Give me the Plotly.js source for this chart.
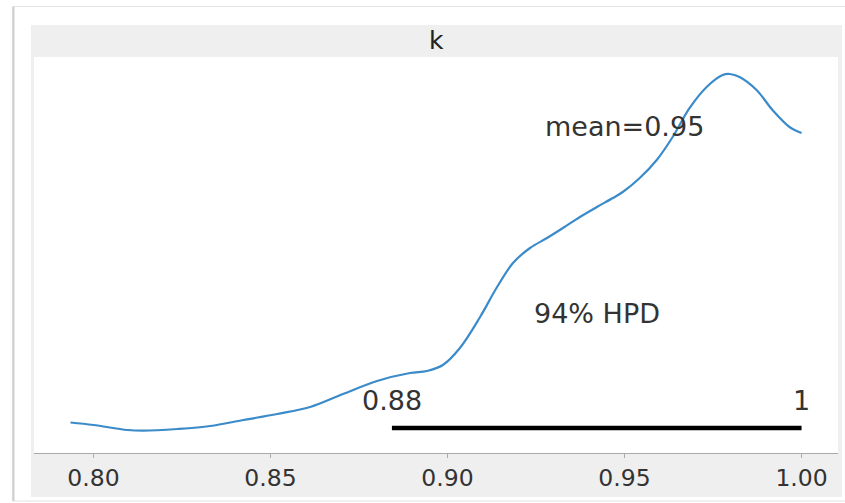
<!DOCTYPE html>
<html>
<head>
<meta charset="utf-8">
<script src="https://cdn.plot.ly/plotly-3.0.1.min.js"></script>
<style>html,body{margin:0;padding:0;background:#fff;}#chart{width:845px;height:503px;}</style>
</head>
<body>
<div id="chart"></div>
<script>
// Posterior KDE of k
const kdeX = [0.7935, 0.8000, 0.8096, 0.8141, 0.8237, 0.8330, 0.8423, 0.8519, 0.8612, 0.8705,
              0.8801, 0.8894, 0.8942, 0.8987, 0.9035, 0.9092, 0.9140, 0.9185, 0.9233, 0.9281,
              0.9326, 0.9374, 0.9422, 0.9467, 0.9495, 0.9543, 0.9591, 0.9636, 0.9684, 0.9732,
              0.9777, 0.9797, 0.9825, 0.9873, 0.9918, 0.9966, 1.0000];
const kdeY = [0.924, 0.848, 0.697, 0.676, 0.727, 0.818, 1.000, 1.182, 1.394, 1.788,
              2.182, 2.424, 2.485, 2.667, 3.182, 4.121, 5.030, 5.758, 6.212, 6.515,
              6.818, 7.152, 7.455, 7.727, 7.909, 8.333, 8.879, 9.576, 10.455, 11.091,
              11.455, 11.485, 11.394, 11.000, 10.394, 9.879, 9.697];
const hpdInterval = [0.8843, 1.0];
const hpdLabels = ["0.88", "1"];
const meanValue = 0.95;
const meanLabel = "mean=0.95";
const hpdText = "94% HPD";
const varName = "k";
const tickVals = [0.80, 0.85, 0.90, 0.95, 1.00];
const tickText = ["0.80", "0.85", "0.90", "0.95", "1.00"];

const hpdY = 0.758;
const txtFont = {family: "DejaVu Sans", size: 27, color: "#333"};

const traces = [
  {x: kdeX, y: kdeY, type: "scatter", mode: "lines",
   line: {color: "#3b8bc9", width: 2.2, shape: "spline", smoothing: 1.0}, hoverinfo: "skip"},
  {x: hpdInterval, y: [hpdY, hpdY], type: "scatter", mode: "lines",
   line: {color: "#000", width: 4.5}, hoverinfo: "skip"}
];

// pixel helpers (plot area: x 34..838, y 57..453)
const px = v => (v - 34) / 804;
const py = v => (453 - v) / 396;

const layout = {
  width: 845, height: 503,
  margin: {l: 34, r: 7, t: 57, b: 50, pad: 0},
  paper_bgcolor: "#fff",
  plot_bgcolor: "rgba(0,0,0,0)",
  showlegend: false,
  xaxis: {
    range: [0.7832, 1.0103], tickvals: tickVals, ticktext: tickText,
    showgrid: false, zeroline: false, showline: true, linecolor: "#aaa", linewidth: 1,
    ticks: "outside", ticklen: 4, tickcolor: "#aaa", tickwidth: 1,
    tickfont: {family: "DejaVu Sans", size: 23.5, color: "#333"}
  },
  yaxis: {range: [0, 12], visible: false, showgrid: false, zeroline: false},
  shapes: [
    {type: "rect", xref: "paper", yref: "paper", x0: px(12.5), x1: px(860), y0: py(501), y1: py(6.5),
     fillcolor: "#fff", line: {color: "#e2e2e2", width: 1}, layer: "below"},
    {type: "line", xref: "paper", yref: "paper", x0: px(13.5), x1: px(13.5), y0: py(501), y1: py(7),
     line: {color: "#cfcfcf", width: 2}, layer: "below"},
    {type: "rect", xref: "paper", yref: "paper", x0: px(31), x1: px(842), y0: py(497), y1: py(25),
     fillcolor: "#efefef", line: {width: 0}, layer: "below"},
    {type: "rect", xref: "paper", yref: "paper", x0: 0, x1: 1, y0: 0, y1: 1,
     fillcolor: "#fff", line: {width: 0}, layer: "below"}
  ],
  annotations: [
    {text: varName, xref: "paper", yref: "paper", x: 0.5, y: py(41), xanchor: "center", yanchor: "middle",
     showarrow: false, font: {family: "DejaVu Sans", size: 25, color: "#222"}},
    {text: meanLabel, x: meanValue, y: (453 - 126) / 33, xref: "x", yref: "y",
     xanchor: "center", yanchor: "middle", showarrow: false, font: txtFont},
    {text: hpdText, x: (hpdInterval[0] + hpdInterval[1]) / 2, y: (453 - 313) / 33, xref: "x", yref: "y",
     xanchor: "center", yanchor: "middle", showarrow: false, font: txtFont},
    {text: hpdLabels[0], x: hpdInterval[0], y: (453 - 400) / 33, xref: "x", yref: "y",
     xanchor: "center", yanchor: "middle", showarrow: false, font: txtFont},
    {text: hpdLabels[1], x: hpdInterval[1], y: (453 - 400) / 33, xref: "x", yref: "y",
     xanchor: "center", yanchor: "middle", showarrow: false, font: txtFont}
  ]
};

Plotly.newPlot("chart", traces, layout, {staticPlot: true, displayModeBar: false});
</script>
</body>
</html>
